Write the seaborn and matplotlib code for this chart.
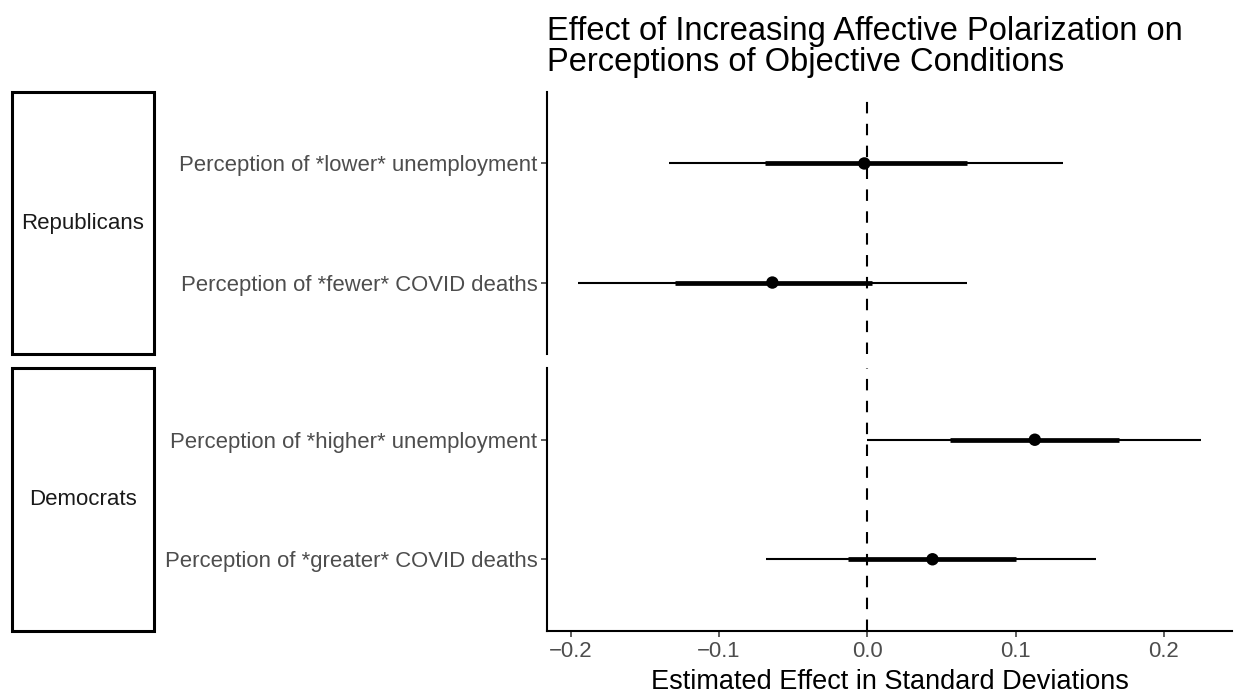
import matplotlib
matplotlib.use("Agg")
import matplotlib.pyplot as plt
from matplotlib.patches import Rectangle
import seaborn as sns
import pandas as pd

# Estimates with inner and outer confidence intervals, by party panel
groups = ["Republicans", "Republicans", "Democrats", "Democrats"]
outcomes = [
    "Perception of *lower* unemployment",
    "Perception of *fewer* COVID deaths",
    "Perception of *higher* unemployment",
    "Perception of *greater* COVID deaths",
]
estimate = [-0.002, -0.064, 0.113, 0.044]
inner_low = [-0.069, -0.130, 0.056, -0.013]
inner_high = [0.067, 0.003, 0.170, 0.100]
outer_low = [-0.134, -0.195, 0.000, -0.068]
outer_high = [0.132, 0.067, 0.225, 0.154]
x_ticks = [-0.2, -0.1, 0.0, 0.1, 0.2]
x_tick_labels = ["\u22120.2", "\u22120.1", "0.0", "0.1", "0.2"]
panel_order = ["Republicans", "Democrats"]

df = pd.DataFrame({
    "group": groups, "outcome": outcomes, "estimate": estimate,
    "inner_low": inner_low, "inner_high": inner_high,
    "outer_low": outer_low, "outer_high": outer_high,
})

sns.set_theme(style="ticks")
plt.rcParams["font.family"] = ["Liberation Sans", "DejaVu Sans"]

W, H = 1235, 695
fig = plt.figure(figsize=(W / 100, H / 100), dpi=100)

# panel extents in pixels: (top, bottom)
panel_px = [(92, 354), (368, 631)]
left_px, right_px = 547, 1232

xmin = min(outer_low)
xmax = max(outer_high)
pad = 0.05 * (xmax - xmin)

tick_grey = "#4D4D4D"
axes = []
for i, (grp, (top, bot)) in enumerate(zip(panel_order, panel_px)):
    ax = fig.add_axes([left_px / W, 1 - bot / H, (right_px - left_px) / W, (bot - top) / H])
    axes.append(ax)
    sub = df[df["group"] == grp].reset_index(drop=True)

    ax.axvline(0, color="black", lw=1.5, linestyle=(0, (5.5, 5)), zorder=1)
    ax.hlines(sub["outcome"], sub["outer_low"], sub["outer_high"],
              color="black", lw=1.5, zorder=2)
    ax.hlines(sub["outcome"], sub["inner_low"], sub["inner_high"],
              color="black", lw=3.4, zorder=3)
    sns.scatterplot(data=sub, x="estimate", y="outcome", ax=ax, color="black",
                    s=80, edgecolor="none", zorder=4, legend=False)

    ax.set_ylim(1.6, -0.6)
    ax.set_xlim(xmin - pad, xmax + pad)
    ax.set_xlabel("")
    ax.set_ylabel("")
    for side in ["top", "right"]:
        ax.spines[side].set_visible(False)
    ax.spines["left"].set_linewidth(1.5)
    ax.spines["left"].set_color("black")
    ax.tick_params(axis="y", length=4, width=1.1, color="#333333",
                   labelsize=15.9, labelcolor=tick_grey, pad=3)
    if i == 0:
        ax.spines["bottom"].set_visible(False)
        ax.tick_params(axis="x", bottom=False, labelbottom=False)
    else:
        ax.spines["bottom"].set_linewidth(1.5)
        ax.spines["bottom"].set_color("black")
        ax.set_xticks(x_ticks)
        ax.set_xticklabels(x_tick_labels)
        ax.tick_params(axis="x", length=4, width=1.1, color="#333333",
                       labelsize=15.9, labelcolor=tick_grey, pad=3)
        ax.set_xlabel("Estimated Effect in Standard Deviations", fontsize=19.5,
                      color="black", labelpad=5)

    # facet strip on the far left
    sx0, sx1 = 12, 154
    fig.patches.append(Rectangle((sx0 / W, 1 - bot / H), (sx1 - sx0) / W, (bot - top) / H,
                                 transform=fig.transFigure, facecolor="white",
                                 edgecolor="black", lw=2.2))
    fig.text((sx0 + sx1) / 2 / W, 1 - (top + bot) / 2 / H, grp, ha="center", va="center",
             fontsize=16, color="#1A1A1A")

fig.text(left_px / W, 1 - 16 / H,
         "Effect of Increasing Affective Polarization on\nPerceptions of Objective Conditions",
         ha="left", va="top", fontsize=23.5, color="black", linespacing=1.02)

fig.savefig("out.png", dpi=100)
